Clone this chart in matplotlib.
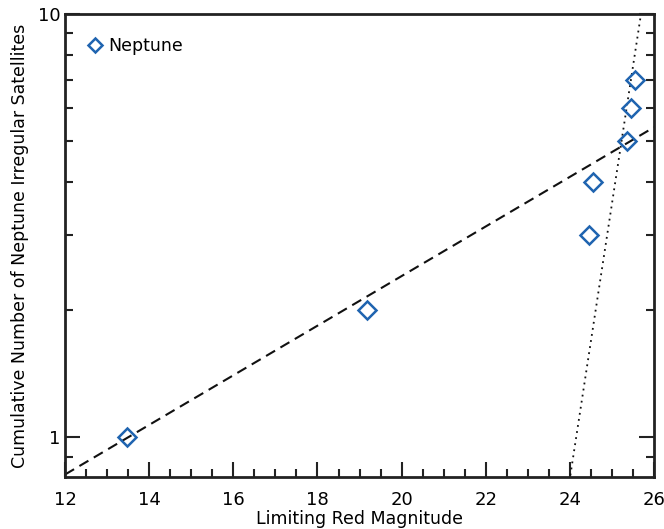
import numpy as np
import matplotlib
matplotlib.use("Agg")
import matplotlib.pyplot as plt
from matplotlib.ticker import LogLocator, FixedLocator, FixedFormatter, NullFormatter, MultipleLocator

plt.rcParams['font.family'] = ['DejaVu Sans']

# data
mag = [13.47, 19.18, 24.45, 24.55, 25.35, 25.45, 25.55]
count = [1, 2, 3, 4, 5, 6, 7]

# fitted power-law lines: log10(N) = slope*(m - m_ref) + log10(N_ref)
dash_m = [12.0, 26.0]
dash_slope, dash_mref, dash_nref = 0.0586, 13.5, 1.0
dot_m = [23.9, 25.8]
dot_slope, dot_mref, dot_nref = 0.649, 25.69, 10.0

fig = plt.figure(figsize=(6.64, 5.29), dpi=100)
ax = fig.add_axes([0.098, 0.098, 0.887, 0.8755])

dm = np.array(dash_m)
ax.plot(dm, dash_nref * 10 ** (dash_slope * (dm - dash_mref)), ls=(0, (5, 3)), color='#111111', lw=1.5)
tm = np.array(dot_m)
ax.plot(tm, dot_nref * 10 ** (dot_slope * (tm - dot_mref)), ls=(0, (1, 2.4)), color='#111111', lw=1.3)

ax.plot(mag, count, ls='none', marker='D', markersize=9, mfc='none', mec='#1f64b0', mew=1.8, label='Neptune')

ax.set_yscale('log')
ax.set_xlim(12, 26)
ax.set_ylim(0.805, 10)
ax.xaxis.set_major_locator(MultipleLocator(2))
ax.xaxis.set_minor_locator(MultipleLocator(0.5))
ax.yaxis.set_major_locator(FixedLocator([1, 10]))
ax.yaxis.set_major_formatter(FixedFormatter(['1', '10']))
ax.yaxis.set_minor_locator(LogLocator(base=10, subs=np.arange(2, 10) / 1.0))
ax.yaxis.set_minor_formatter(NullFormatter())

ax.tick_params(which='both', direction='in', top=False, right=True, labelsize=13, width=1.5, color='#222222')
ax.tick_params(which='major', length=11)
ax.tick_params(which='minor', length=6)
ax.tick_params(axis='x', pad=10)
for s in ax.spines.values():
    s.set_linewidth(2)
    s.set_color('#222222')

ax.set_xlabel('Limiting Red Magnitude', fontsize=12.5, labelpad=1)
ax.set_ylabel('Cumulative Number of Neptune Irregular Satellites', fontsize=12.5, labelpad=6)

ax.legend(loc='upper left', frameon=False, fontsize=12.5, handletextpad=0.0, markerscale=0.75,
          bbox_to_anchor=(0.0, 0.985), borderaxespad=0.5, handlelength=1.6)

fig.savefig('out.png', dpi=100)
